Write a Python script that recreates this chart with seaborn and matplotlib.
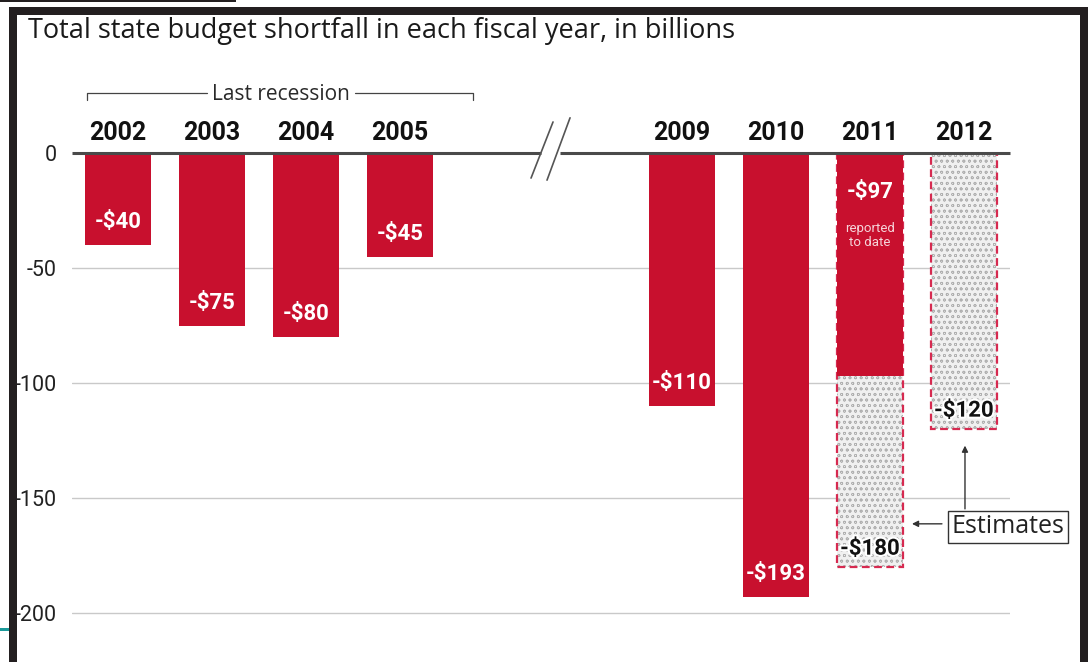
import matplotlib
matplotlib.use("Agg")
import matplotlib.pyplot as plt
import matplotlib.patheffects as pe
from matplotlib.patches import Rectangle
import seaborn as sns

# ---------------- data ----------------
order = ["2002", "2003", "2004", "2005", " ", "  ", "2009", "2010", "2011", "2012"]
years_reported = ["2002", "2003", "2004", "2005", "2009", "2010", "2011"]
reported = [-40, -75, -80, -45, -110, -193, -97]
reported_labels = ["-$40", "-$75", "-$80", "-$45", "-$110", "-$193", "-$97"]
years_estimate = ["2011", "2012"]
estimate = [-180, -120]
estimate_labels = ["-$180", "-$120"]
yticks = [0, -50, -100, -150, -200]
ytick_labels = ["0", "-50", "-100", "-150", "-200"]
title = "Total state budget shortfall in each fiscal year, in billions"

RED = "#C8102E"
DASH_RED = "#D62A50"

sns.set_style("white")
plt.rcParams["font.family"] = ["Roboto", "DejaVu Sans"]
plt.rcParams["text.parse_math"] = False
plt.rcParams["hatch.linewidth"] = 0.5

W, H = 1092, 662
fig = plt.figure(figsize=(W / 100, H / 100), dpi=100)
fig.patch.set_facecolor("white")
ax = fig.add_axes([72 / W, 1 - 640 / H, (1010 - 72) / W, (640 - 153) / H])

# estimate bars (hatched)
n0 = len(ax.patches)
sns.barplot(x=years_estimate, y=estimate, order=order, color="#f0f0f0", saturation=1,
            width=0.71, errorbar=None, ax=ax, linewidth=0, zorder=2)
for p in ax.patches[n0:]:
    p.set_hatch("ooo")
    p.set_edgecolor("#b0b0b0")
    p.set_linewidth(0)
# dashed outlines
n1 = len(ax.patches)
sns.barplot(x=years_estimate, y=estimate, order=order, color=DASH_RED, saturation=1,
            width=0.71, errorbar=None, ax=ax, fill=False, zorder=3)
for p in ax.patches[n1:]:
    p.set_facecolor("none")
    p.set_edgecolor(DASH_RED)
    p.set_linestyle((0, (3.5, 2)))
    p.set_linewidth(1.6)
# reported bars
sns.barplot(x=years_reported, y=reported, order=order, color=RED, saturation=1,
            width=0.71, errorbar=None, ax=ax, linewidth=0, zorder=4)

ax.set_xlim(-0.49, 9.49)
ax.set_ylim(-211.7, 0)
ax.set_xlabel("")
ax.set_ylabel("")
for s in ax.spines.values():
    s.set_visible(False)

# gridlines
for v in yticks[1:]:
    ax.axhline(v, color="#c9c9c9", lw=1, zorder=0)

# zero line with break
ax.plot([-0.49, 4.5], [0, 0], color="#4a4a4a", lw=2.2, zorder=6, clip_on=False, solid_capstyle="butt")
ax.plot([4.70, 9.49], [0, 0], color="#4a4a4a", lw=2.2, zorder=6, clip_on=False, solid_capstyle="butt")
ax.plot([4.394, 4.628], [-10.9, 13.5], color="#555555", lw=1.2, zorder=6, clip_on=False)
ax.plot([4.564, 4.809], [-11.8, 15.3], color="#555555", lw=1.2, zorder=6, clip_on=False)

# ticks
ax.set_yticks(yticks)
ax.set_yticklabels(ytick_labels, fontsize=15.5, color="#222222")
ax.tick_params(axis="y", length=0, pad=11)
ax.set_xticks(range(len(order)))
ax.set_xticklabels(order, fontsize=18, fontweight="bold", color="#111111")
ax.tick_params(axis="x", bottom=False, labelbottom=False, top=True, labeltop=True, length=0, pad=6)

# bar labels
for yr, v, lab in zip(years_reported, reported, reported_labels):
    i = order.index(yr)
    if yr == "2011":
        ax.text(i, -17, lab, ha="center", va="center", color="white", fontsize=16,
                fontweight="bold", zorder=7)
        ax.text(i, -36, "reported\nto date", ha="center", va="center", color="#f6d4d9",
                fontsize=9.5, linespacing=1.1, zorder=7)
    else:
        ax.text(i, v + 10, lab, ha="center", va="center", color="white", fontsize=16,
                fontweight="bold", zorder=7)
for yr, v, lab in zip(years_estimate, estimate, estimate_labels):
    i = order.index(yr)
    ax.text(i, v + 8, lab, ha="center", va="center", color="#111111", fontsize=16,
            fontweight="bold", zorder=7,
            path_effects=[pe.withStroke(linewidth=3, foreground="white")])

# "Last recession" bracket
bc = "#444444"
ax.plot([-0.33, -0.33, 0.947], [23.0, 26.1, 26.1], color=bc, lw=0.9, clip_on=False)
ax.plot([2.521, 3.777, 3.777], [26.1, 26.1, 23.0], color=bc, lw=0.9, clip_on=False)
ax.text(1.734, 25.6, "Last recession", ha="center", va="center", fontsize=15,
        color="#2a2a2a", family=["Open Sans", "DejaVu Sans"], clip_on=False)

# Estimates callout
ax.text(9.468, -162.5, "Estimates", ha="center", va="center", fontsize=18,
        color="#222222", family=["Open Sans", "DejaVu Sans"], zorder=8, clip_on=False,
        bbox=dict(boxstyle="square,pad=0.15", fc="white", ec="#333333", lw=1))
ax.annotate("", xy=(8.447, -161.2), xytext=(8.766, -161.2),
            arrowprops=dict(arrowstyle="-|>", color="#333333", lw=1, mutation_scale=9,
                            shrinkA=0, shrinkB=0), annotation_clip=False)
ax.annotate("", xy=(9.011, -127.2), xytext=(9.011, -154.7),
            arrowprops=dict(arrowstyle="-|>", color="#333333", lw=1, mutation_scale=9,
                            shrinkA=0, shrinkB=0), annotation_clip=False)

# title
fig.text(28 / W, 1 - 31 / H, title, ha="left", va="center", fontsize=19.5,
         color="#1a1a1a", family=["Open Sans", "DejaVu Sans"])

# frame of the screenshot
frame = "#231f20"
def px_rect(x0, y0, x1, y1, c):
    fig.add_artist(Rectangle((x0 / W, 1 - y1 / H), (x1 - x0) / W, (y1 - y0) / H,
                             transform=fig.transFigure, facecolor=c, edgecolor="none",
                             zorder=20))
px_rect(9, 7, 1088, 15, frame)
px_rect(9, 7, 17, 662, frame)
px_rect(1080, 7, 1088, 662, frame)
px_rect(0, 0, 236, 2, frame)
px_rect(0, 628, 9, 631, "#1b9a9a")

fig.savefig("out.png", dpi=100)
